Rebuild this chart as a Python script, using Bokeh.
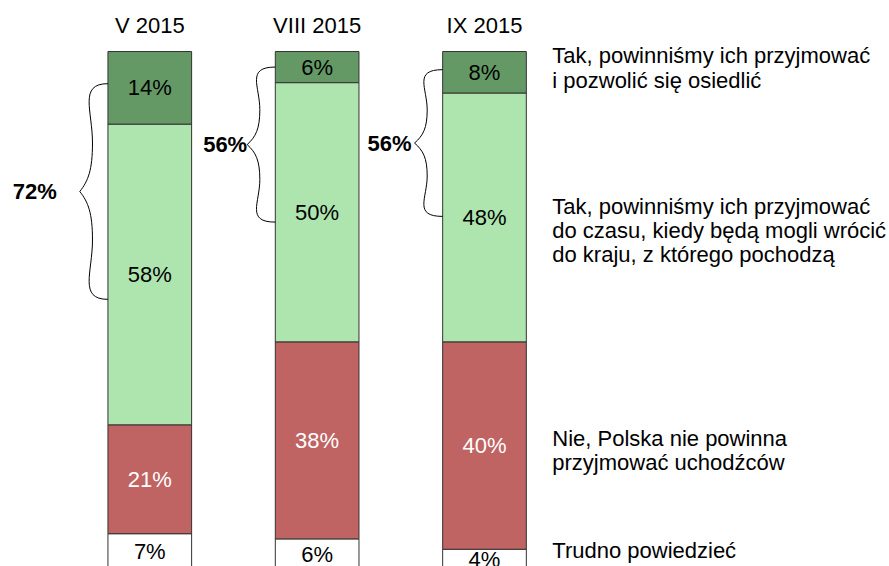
from bokeh.plotting import figure
from bokeh.models import Range1d, ColumnDataSource
from bokeh.embed import file_html
from bokeh.resources import INLINE
from bokeh.core.properties import value

# ---------------- data ----------------
waves = ["V 2015", "VIII 2015", "IX 2015"]
settle = [14, 6, 8]          # Tak, ... i pozwolić się osiedlić
temporary = [58, 50, 48]     # Tak, ... do czasu, kiedy będą mogli wrócić
refuse = [21, 38, 40]        # Nie, Polska nie powinna przyjmować uchodźców
hard_to_say = [7, 6, 4]      # Trudno powiedzieć

answer_lines = [
    ["Tak, powinniśmy ich przyjmować", "i pozwolić się osiedlić"],
    ["Tak, powinniśmy ich przyjmować", "do czasu, kiedy będą mogli wrócić",
     "do kraju, z którego pochodzą"],
    ["Nie, Polska nie powinna", "przyjmować uchodźców"],
    ["Trudno powiedzieć"],
]

# ---------------- layout / style ----------------
FONT = "Liberation Sans"
FS = "22px"
BAR_W = 0.5
colors = ["#ffffff", "#c06363", "#aee5af", "#649966"]      # bottom -> top
text_colors = ["#000000", "#ffffff", "#000000", "#000000"]
series = [hard_to_say, refuse, temporary, settle]           # bottom -> top

# annotation placement (data units)
brace_top = [93.8, 97.0, 96.5]
brace_bottom = [52.2, 67.1, 68.2]
brace_depth = 0.168
net_gap = [0.137, 0.0, 0.018]
answer_first_mid = [99.15, 70.2, 25.45, 3.7]
line_step = 4.72
title_mid = 105.1
answer_x = 2.405

p = figure(width=889, height=566, output_backend="svg", toolbar_location=None,
           x_range=Range1d(-0.892, 4.420), y_range=Range1d(0.675, 109.84),
           min_border=0, outline_line_color=None, background_fill_color="white",
           border_fill_color="white")
p.axis.visible = False
p.grid.visible = False

# ---------------- stacked bars ----------------
xs, tops, bottoms, fills, lbl_x, lbl_y, lbl_t, lbl_c = [], [], [], [], [], [], [], []
for i in range(len(waves)):
    base = 0
    for k, s in enumerate(series):
        v = s[i]
        xs.append(i)
        bottoms.append(base)
        tops.append(base + v)
        fills.append(colors[k])
        lbl_x.append(i)
        lbl_y.append(base + v / 2)
        lbl_t.append(f"{v}%")
        lbl_c.append(text_colors[k])
        base += v

bars = ColumnDataSource(dict(x=xs, top=tops, bottom=bottoms, fill=fills))
p.vbar(x="x", top="top", bottom="bottom", width=BAR_W, fill_color="fill",
       line_color="#333333", line_width=1, source=bars)

labels = ColumnDataSource(dict(x=lbl_x, y=lbl_y, t=lbl_t, c=lbl_c))
p.text(x="x", y="y", text="t", text_color="c", text_font=value(FONT),
       text_font_size=FS, text_align="center", text_baseline="middle", source=labels)

# ---------------- titles ----------------
p.text(x=list(range(len(waves))), y=[title_mid] * len(waves), text=waves,
       text_font=value(FONT), text_font_size=FS, text_align="center",
       text_baseline="middle", text_color="#000000")

# ---------------- braces ----------------
A = [(0, 0), (1.05, 0), (0.55, 0.25), (0.55, 0.55)]
B = [(0.55, 0.55), (0.55, 0.8), (0.7, 0.9), (1.0, 1.0)]
bz = dict(x0=[], y0=[], x1=[], y1=[], cx0=[], cy0=[], cx1=[], cy1=[])
net_x, net_y, net_t = [], [], []
for i in range(len(waves)):
    xe = i - BAR_W / 2
    yt, yb = brace_top[i], brace_bottom[i]
    ym = (yt + yb) / 2
    for half in ("up", "down"):
        for seg in (A, B):
            pts = []
            for fx, fy in seg:
                X = xe - fx * brace_depth
                Y = yt - fy * (yt - ym) if half == "up" else yb + fy * (ym - yb)
                pts.append((X, Y))
            bz["x0"].append(pts[0][0]); bz["y0"].append(pts[0][1])
            bz["cx0"].append(pts[1][0]); bz["cy0"].append(pts[1][1])
            bz["cx1"].append(pts[2][0]); bz["cy1"].append(pts[2][1])
            bz["x1"].append(pts[3][0]); bz["y1"].append(pts[3][1])
    net_x.append(xe - brace_depth - net_gap[i])
    net_y.append(ym)
    net_t.append(f"{settle[i] + temporary[i]}%")

p.bezier(x0="x0", y0="y0", x1="x1", y1="y1", cx0="cx0", cy0="cy0",
         cx1="cx1", cy1="cy1", line_color="#000000", line_width=1,
         source=ColumnDataSource(bz))

p.text(x=net_x, y=net_y, text=net_t, text_font=value(FONT), text_font_size=FS,
       text_font_style="bold", text_align="right", text_baseline="middle",
       text_color="#000000")

# ---------------- answer labels ----------------
ax, ay, at = [], [], []
for j, lines in enumerate(answer_lines):
    for n, line in enumerate(lines):
        ax.append(answer_x)
        ay.append(answer_first_mid[j] - n * line_step)
        at.append(line)
p.text(x=ax, y=ay, text=at, text_font=value(FONT), text_font_size=FS,
       text_align="left", text_baseline="middle", text_color="#000000")

open("out.html", "w").write(file_html(p, INLINE))
